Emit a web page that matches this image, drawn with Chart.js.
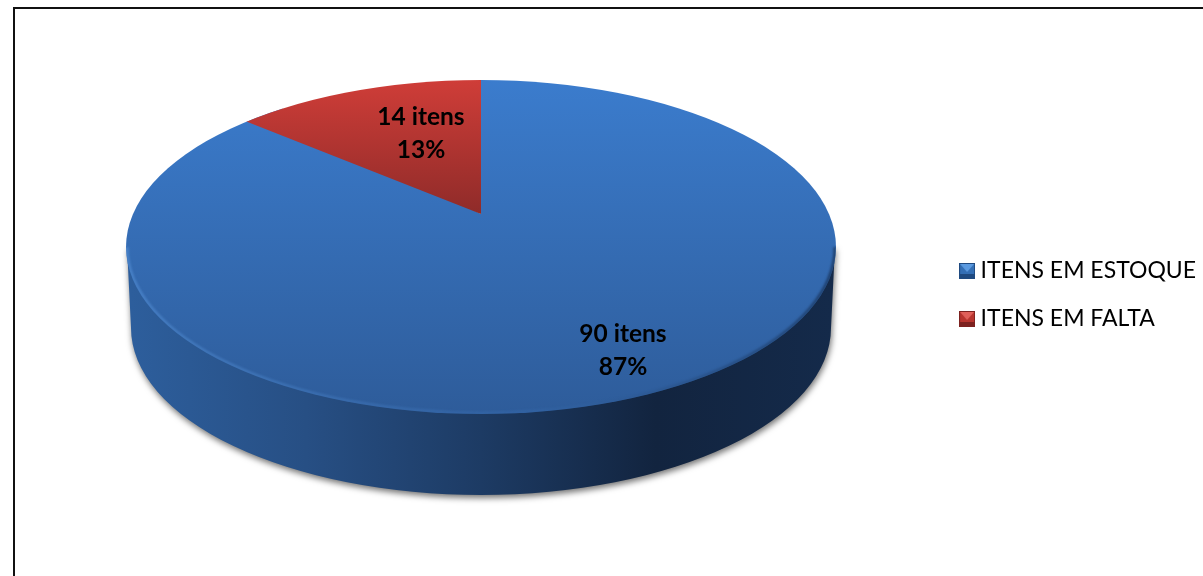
<!DOCTYPE html>
<html>
<head>
<meta charset="utf-8">
<title>Itens em estoque</title>
<script src="https://cdn.jsdelivr.net/npm/chart.js@4"></script>
<style>
html, body { margin: 0; padding: 0; background: #fff; overflow: hidden; width: 1203px; height: 576px; }
#frame { position: absolute; left: 13px; top: 7px; width: 1400px; height: 800px; border: 2.5px solid #111; box-sizing: border-box; }
#chart { position: absolute; left: 0; top: 0; }
</style>
</head>
<body>
<div id="frame"></div>
<canvas id="chart" width="1203" height="576"></canvas>
<script>
const categories = ["ITENS EM ESTOQUE", "ITENS EM FALTA"];
const itemCounts = [90, 14];

const FONT = "Lato, Carlito, Calibri, sans-serif";

// the picture is in perspective: the ellipse is not centred on the slice tip
const TOP = { x: 481, y: 247, rx: 355, ry: 167 };
const BOTTOM = { x: 481, y: 328, rx: 350, ry: 167 };
const TIP = { x: 481, y: 214 };
const SQUASH = [0.6, 0.445]; // how much each slice is flattened around the tip
const LABEL_POS = [{ x: 623, y: 350 }, { x: 421, y: 133 }];

function vGrad(ctx, y0, y1, c0, c1) {
  const g = ctx.createLinearGradient(0, y0, 0, y1);
  g.addColorStop(0, c0);
  g.addColorStop(1, c1);
  return g;
}

function legendIcon(light, mid, dark) {
  const c = document.createElement("canvas");
  c.width = 16;
  c.height = 16;
  const x = c.getContext("2d");
  x.fillStyle = mid;
  x.fillRect(0, 0, 16, 16);
  x.fillStyle = dark;
  x.fillRect(0, 11, 16, 5);
  x.fillStyle = light;
  x.beginPath();
  x.moveTo(1, 1);
  x.lineTo(15, 1);
  x.lineTo(8, 9);
  x.closePath();
  x.fill();
  x.strokeStyle = dark;
  x.strokeRect(0.5, 0.5, 15, 15);
  return c;
}

const icons = [legendIcon("#5b9ae0", "#346fb5", "#1f4a80"), legendIcon("#e0605a", "#b8352f", "#7d2220")];

const piePlugin = {
  id: "flatPie",
  beforeDatasetDraw(chart) {
    const ctx = chart.ctx;
    const arcs = chart.getDatasetMeta(0).data;

    // side wall
    ctx.save();
    const wall = ctx.createLinearGradient(BOTTOM.x - BOTTOM.rx, 0, BOTTOM.x + BOTTOM.rx, 0);
    wall.addColorStop(0, "#2d5e9c");
    wall.addColorStop(0.25, "#274f84");
    wall.addColorStop(0.5, "#1d3b64");
    wall.addColorStop(0.75, "#12243f");
    wall.addColorStop(1, "#142a4a");
    ctx.shadowColor = "rgba(0,0,0,0.55)";
    ctx.shadowBlur = 6;
    ctx.shadowOffsetX = 1;
    ctx.shadowOffsetY = 3;
    ctx.fillStyle = wall;
    ctx.beginPath();
    ctx.moveTo(TOP.x - TOP.rx + 1, TOP.y);
    ctx.lineTo(BOTTOM.x - BOTTOM.rx, BOTTOM.y);
    ctx.ellipse(BOTTOM.x, BOTTOM.y, BOTTOM.rx, BOTTOM.ry, 0, Math.PI, 0, true);
    ctx.lineTo(TOP.x + TOP.rx - 1, TOP.y);
    ctx.closePath();
    ctx.fill();
    ctx.restore();

    // top face, slices cut by the ellipse
    ctx.save();
    ctx.beginPath();
    ctx.ellipse(TOP.x, TOP.y, TOP.rx, TOP.ry, 0, 0, Math.PI * 2);
    ctx.clip();
    const fills = [
      vGrad(ctx, TOP.y - TOP.ry, TOP.y + TOP.ry, "#3b7ccd", "#2e5c9a"),
      vGrad(ctx, TOP.y - TOP.ry, TIP.y, "#cf3d38", "#8f2b29")
    ];
    arcs.forEach((arc, i) => {
      ctx.save();
      ctx.translate(TIP.x, TIP.y);
      ctx.scale(1, SQUASH[i]);
      ctx.translate(-arc.x, -arc.y);
      ctx.beginPath();
      ctx.moveTo(arc.x, arc.y);
      ctx.arc(arc.x, arc.y, arc.outerRadius, arc.startAngle, arc.endAngle);
      ctx.closePath();
      ctx.restore();
      ctx.fillStyle = fills[i];
      ctx.fill();
    });

    // soft rim on the lower edge
    const rim = ctx.createLinearGradient(TOP.x - TOP.rx, 0, TOP.x + TOP.rx, 0);
    rim.addColorStop(0, "rgba(90,150,220,0.55)");
    rim.addColorStop(0.55, "rgba(60,115,185,0.3)");
    rim.addColorStop(1, "rgba(15,35,65,0.6)");
    ctx.strokeStyle = rim;
    ctx.lineWidth = 3;
    ctx.filter = "blur(1px)";
    ctx.beginPath();
    ctx.ellipse(TOP.x, TOP.y, TOP.rx - 1, TOP.ry - 1, 0, 0, Math.PI);
    ctx.stroke();
    ctx.restore();
    return false;
  },
  afterDatasetsDraw(chart) {
    const ctx = chart.ctx;
    const total = itemCounts.reduce((a, b) => a + b, 0);
    ctx.save();
    ctx.fillStyle = "#000";
    ctx.font = "bold 24.5px " + FONT;
    ctx.textAlign = "center";
    ctx.textBaseline = "middle";
    itemCounts.forEach((v, i) => {
      const p = LABEL_POS[i];
      ctx.fillText(v + " itens", p.x, p.y - 16);
      ctx.fillText(Math.round(v / total * 100) + "%", p.x, p.y + 17);
    });
    ctx.restore();
  }
};

new Chart(document.getElementById("chart"), {
  type: "pie",
  plugins: [piePlugin],
  data: {
    labels: categories,
    datasets: [{
      data: itemCounts,
      backgroundColor: ["#346fb5", "#b8352f"],
      radius: 400,
      borderWidth: 0
    }]
  },
  options: {
    responsive: false,
    devicePixelRatio: 1,
    animation: false,
    layout: { padding: { top: 14, right: -3 } },
    plugins: {
      tooltip: { enabled: false },
      legend: {
        position: "right",
        labels: {
          color: "#000",
          font: { family: FONT, size: 23 },
          padding: 25,
          usePointStyle: true,
          pointStyleWidth: 4, // icon sits centred here, keeps the text close to it
          generateLabels(chart) {
            return categories.map((c, i) => ({ text: c, pointStyle: icons[i], index: i, fontColor: "#000" }));
          }
        }
      }
    }
  }
});
</script>
</body>
</html>
